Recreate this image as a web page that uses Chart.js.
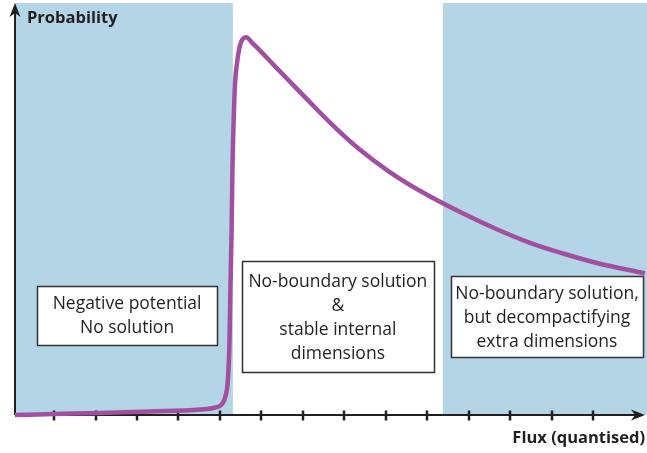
<!DOCTYPE html>
<html>
<head>
<meta charset="utf-8">
<script src="https://cdn.jsdelivr.net/npm/chart.js@4"></script>
<style>
  html, body { margin: 0; padding: 0; background: #fff; }
  #wrap { width: 647px; height: 453px; }
</style>
</head>
<body>
<div id="wrap"><canvas id="c" width="647" height="453"></canvas></div>
<script>
// ----------------------------
// data (flux in tick units, probability 0..100)
// ----------------------------
const flux = [0.06, 1.02, 2.11, 3.31, 4.52, 4.88, 5.05, 5.14, 5.19, 5.23, 5.25, 5.28, 5.30, 5.33, 5.36, 5.41, 5.48, 5.55, 5.63, 5.77, 5.96, 6.28, 7.10, 7.72, 8.30, 9.10, 9.89, 10.86, 11.67, 12.47, 13.27, 14.08, 15.24];
const prob = [0, 0.24, 0.49, 0.85, 1.33, 1.82, 2.67, 4.85, 8.5, 18.2, 30.3, 44.9, 59.5, 71.6, 80.1, 85.4, 89.6, 91.3, 91.7, 90.4, 88.5, 85.1, 76.6, 70.3, 65.0, 58.9, 54.0, 48.9, 45.1, 41.8, 39.2, 36.9, 34.4];
const tickValues = [1, 2, 3, 4, 5, 6, 7, 8, 9, 10, 11, 12, 13, 14];
const bandStart = [0.06, 10.37];
const bandEnd = [5.31, 15.29];
const boxLines = [
  ["Negative potential", "No solution"],
  ["No-boundary solution", "&", "stable internal", "dimensions"],
  ["No-boundary solution,", "but decompactifying", "extra dimensions"]
];
const yLabel = "Probability";
const xLabel = "Flux (quantised)";

// box layout (data x centre, data y centre, width px, height px)
const boxPos = [
  { x: 2.76, y: 24.15, w: 180, h: 59 },
  { x: 7.84, y: 23.9, w: 192, h: 111 },
  { x: 12.88, y: 23.9, w: 192, h: 81 }
];

const FONT = '"Open Sans", "DejaVu Sans", sans-serif';
const INK = "#231f20";

const drawBits = {
  id: "drawBits",
  beforeDatasetsDraw(chart) {
    const ctx = chart.ctx;
    const xs = chart.scales.x, ys = chart.scales.y;
    const y0 = ys.getPixelForValue(0), yTop = ys.getPixelForValue(100);
    const x0 = xs.getPixelForValue(xs.min), xEnd = xs.getPixelForValue(xs.max);
    ctx.save();
    // shaded bands
    ctx.fillStyle = "#b4d5e5";
    bandStart.forEach((s, i) => {
      const a = xs.getPixelForValue(s), b = xs.getPixelForValue(bandEnd[i]);
      ctx.fillRect(a, yTop, b - a, y0 - yTop);
    });
    // axes
    ctx.strokeStyle = INK;
    ctx.fillStyle = INK;
    ctx.lineWidth = 2;
    ctx.beginPath();
    ctx.moveTo(x0, y0); ctx.lineTo(x0, yTop + 8);
    ctx.moveTo(x0, y0); ctx.lineTo(xEnd - 8, y0);
    ctx.stroke();
    // arrows
    ctx.beginPath();
    ctx.moveTo(x0, yTop); ctx.lineTo(x0 + 5.5, yTop + 14); ctx.lineTo(x0, yTop + 10); ctx.lineTo(x0 - 5.5, yTop + 14);
    ctx.closePath(); ctx.fill();
    ctx.beginPath();
    ctx.moveTo(xEnd - 2, y0); ctx.lineTo(xEnd - 16, y0 - 5.5); ctx.lineTo(xEnd - 12, y0); ctx.lineTo(xEnd - 16, y0 + 5.5);
    ctx.closePath(); ctx.fill();
    // ticks
    ctx.lineWidth = 2.5;
    ctx.beginPath();
    tickValues.forEach(v => {
      const px = Math.round(xs.getPixelForValue(v));
      ctx.moveTo(px, y0 - 4.5); ctx.lineTo(px, y0 + 5.5);
    });
    ctx.stroke();
    // axis labels
    ctx.font = "bold 16.5px " + FONT;
    ctx.textBaseline = "alphabetic";
    ctx.textAlign = "left";
    ctx.fillText(yLabel, x0 + 12, yTop + 20);
    ctx.textAlign = "right";
    ctx.fillText(xLabel, xEnd - 2, y0 + 28);
    ctx.restore();
  },
  afterDatasetsDraw(chart) {
    const ctx = chart.ctx;
    const xs = chart.scales.x, ys = chart.scales.y;
    ctx.save();
    boxPos.forEach((b, i) => {
      const cx = xs.getPixelForValue(b.x), cy = ys.getPixelForValue(b.y);
      const l = Math.round(cx - b.w / 2) + 0.5, t = Math.round(cy - b.h / 2) + 0.5;
      ctx.fillStyle = "#fff";
      ctx.fillRect(l, t, b.w, b.h);
      ctx.strokeStyle = "#333";
      ctx.lineWidth = 1.5;
      ctx.strokeRect(l, t, b.w, b.h);
      ctx.fillStyle = INK;
      ctx.font = "17.5px " + FONT;
      ctx.textAlign = "center";
      ctx.textBaseline = "middle";
      const lines = boxLines[i];
      const lh = 24;
      lines.forEach((txt, k) => {
        ctx.fillText(txt, cx, cy + 1 + (k - (lines.length - 1) / 2) * lh);
      });
    });
    ctx.restore();
  }
};

new Chart(document.getElementById("c"), {
  type: "line",
  data: {
    datasets: [{
      data: flux.map((x, i) => ({ x: x, y: prob[i] })),
      borderColor: "#a24fa0",
      borderWidth: 4.5,
      pointRadius: 0,
      cubicInterpolationMode: "monotone",
      fill: false,
      clip: false
    }]
  },
  options: {
    responsive: false,
    animation: false,
    layout: { padding: { left: 15, right: 0, top: 3, bottom: 38 } },
    plugins: { legend: { display: false }, tooltip: { enabled: false } },
    scales: {
      x: { type: "linear", min: 0.06, max: 15.29, display: false },
      y: { min: 0, max: 100, display: false }
    }
  },
  plugins: [drawBits]
});
</script>
</body>
</html>
